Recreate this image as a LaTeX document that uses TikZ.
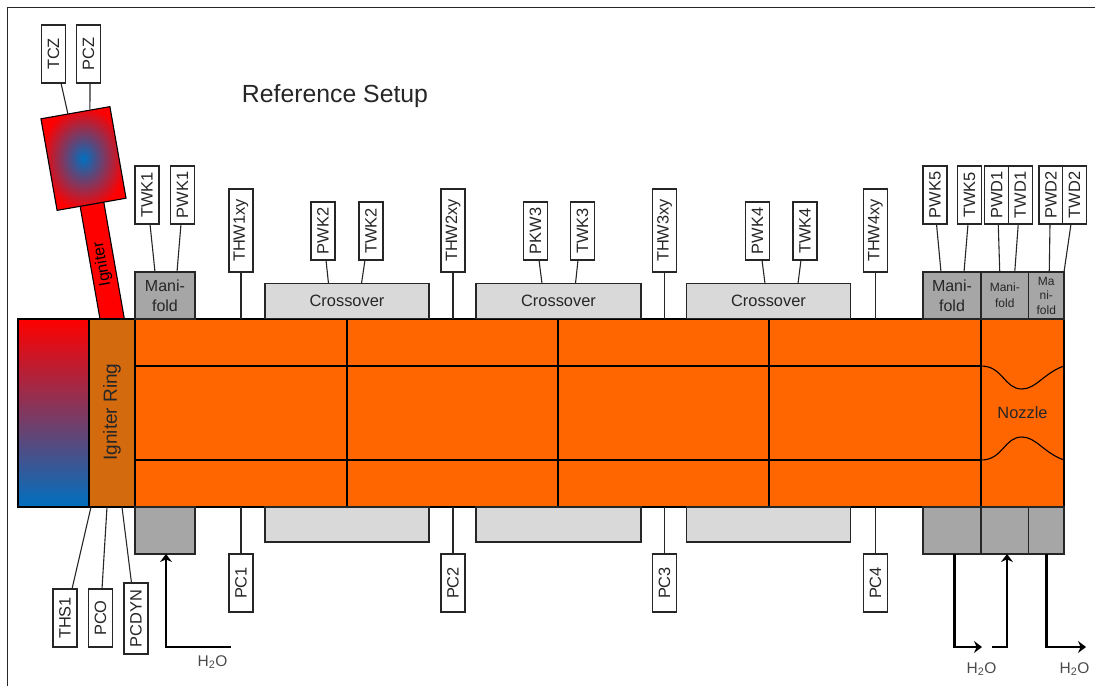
\documentclass[tikz,border=0pt]{standalone}
\usepackage{fontspec}
\setmainfont{Liberation Sans}
\usetikzlibrary{arrows.meta,positioning,calc}
\definecolor{ringbrown}{RGB}{212,106,14}
\definecolor{bodyorange}{RGB}{255,102,0}
\definecolor{coldblue}{RGB}{0,112,192}
\definecolor{manigray}{RGB}{166,166,166}
\definecolor{crossgray}{RGB}{217,217,217}

\begin{document}
\begin{tikzpicture}[
    x=1pt, y=-1pt,
    every node/.style={outer sep=0pt, inner sep=0pt},
    sensor/.style={draw=black!85, line width=1.1pt, fill=white, rotate=90, minimum width=#1, minimum height=24pt, text=black!85, font=\fontsize{16.4}{19}\selectfont},
    wire/.style={draw=black!85, line width=1.1pt},
    mani/.style={draw=black!85, line width=1.1pt, fill=manigray, minimum height=47pt, minimum width=#1, align=center, text=black!85},
    cross/.style={draw=black!85, line width=1.1pt, fill=crossgray, minimum width=#1, minimum height=35pt, text=black!85, font=\fontsize{16.4}{19}\selectfont},
    body/.style={draw=black, line width=1.2pt, fill=bodyorange, minimum height=188pt, minimum width=#1},
    flow/.style={-{Stealth[length=8pt,width=12pt]}, line width=2.6pt}
]
\useasboundingbox (0,0) rectangle (1095,686);
\draw[wire] (1095,7.5) -- (7.5,7.5) -- (7.5,686);

\node[text=black!85, font=\fontsize{24.8}{29}\selectfont] (title) at (335,96) {Reference Setup};

% Igniter
\node[draw=black, line width=1.1pt, fill=red, rotate=100, minimum width=122pt, minimum height=24pt, font=\fontsize{16}{19}\selectfont] (igniter) at (102.5,264) {Igniter};
\node[draw=black, line width=1.1pt, rotate=10, inner color=coldblue, outer color=red, minimum width=70pt, minimum height=93pt] (cham) at (83.5,158.5) {};

% Main chamber
\node[draw=black, line width=1.2pt, top color=red, bottom color=coldblue, minimum width=71pt, minimum height=188pt] (head) at (53.5,413) {};
\node[draw=black, line width=1.2pt, fill=ringbrown, minimum width=46pt, minimum height=188pt] (ring) at (112,413) {};
\node[rotate=90, text=black!85, font=\fontsize{19}{22}\selectfont] (ringtxt) at (112,412) {Igniter Ring};
\node[body=846pt] (main) at (558,413) {};
\node[body=83pt, text=black!85, font=\fontsize{16.4}{19}\selectfont] (nozzle) at (1022.5,413) {Nozzle};

\draw[wire, draw=black] (347,319) -- (347,507);
\draw[wire, draw=black] (558,319) -- (558,507);
\draw[wire, draw=black] (769,319) -- (769,507);
\draw[wire, draw=black] (135,366) -- (981,366);
\draw[wire, draw=black] (135,460) -- (981,460);
\draw[wire, draw=black] (981,366) .. controls (1003,366) and (1004,389) .. (1022,389) .. controls (1036,389) and (1044,373) .. (1064,366);
\draw[wire, draw=black] (981,460) .. controls (1003,460) and (1004,437) .. (1022,437) .. controls (1036,437) and (1044,453) .. (1064,460);

% Manifolds
\node[mani=60pt, font=\fontsize{16}{20}\selectfont] (mani1) at (165,295.5) {Mani-\\fold};
\node[mani=58pt, font=\fontsize{16}{20}\selectfont] (mani5) at (952,295.5) {Mani-\\fold};
\node[mani=47.5pt, font=\fontsize{12}{16}\selectfont] (maniD1) at (1004.75,295.5) {Mani-\\fold};
\node[mani=35.5pt, font=\fontsize{12}{14.5}\selectfont] (maniD2) at (1046.25,295.5) {Ma\\ni-\\fold};
\node[mani=60pt] (low1) at (165,530.5) {};
\node[mani=58pt] (low5) at (952,530.5) {};
\node[mani=47.5pt] (lowD1) at (1004.75,530.5) {};
\node[mani=35.5pt] (lowD2) at (1046.25,530.5) {};

% Crossovers
\node[cross=164pt] (cross1) at (347,301) {Crossover};
\node[cross=165pt] (cross2) at (558.5,301) {Crossover};
\node[cross=164pt] (cross3) at (768.5,301) {Crossover};
\node[cross=164pt] (lowc1) at (347,524.5) {};
\node[cross=165pt] (lowc2) at (558.5,524.5) {};
\node[cross=164pt] (lowc3) at (768.5,524.5) {};

% Sensors on top
\node[sensor=58pt] (tcz) at (53.5,54) {TCZ};
\node[sensor=58pt] (pcz) at (88.5,54) {PCZ};
\node[sensor=58pt] (twk1) at (147,195) {TWK1};
\node[sensor=58pt] (pwk1) at (182.5,195) {PWK1};
\node[sensor=83pt] (thw1) at (241,230.5) {THW1xy};
\node[sensor=58pt] (pwk2) at (323,231) {PWK2};
\node[sensor=58pt] (twk2) at (371,231) {TWK2};
\node[sensor=83pt] (thw2) at (453,230.5) {THW2xy};
\node[sensor=58pt] (pkw3) at (535.5,231) {PKW3};
\node[sensor=58pt] (twk3) at (582.5,231) {TWK3};
\node[sensor=83pt] (thw3) at (664.5,230.5) {THW3xy};
\node[sensor=58pt] (pwk4) at (757.5,231) {PWK4};
\node[sensor=58pt] (twk4) at (805,231) {TWK4};
\node[sensor=83pt] (thw4) at (875.5,230.5) {THW4xy};
\node[sensor=58pt] (pwk5) at (935,195) {PWK5};
\node[sensor=58pt] (twk5) at (969.5,195) {TWK5};
\node[sensor=58pt] (pwd1) at (996.75,195) {PWD1};
\node[sensor=58pt] (twd1) at (1020.25,195) {TWD1};
\node[sensor=58pt] (pwd2) at (1051,195) {PWD2};
\node[sensor=58pt] (twd2) at (1074.5,195) {TWD2};

% Sensors below
\node[sensor=58pt] (ths1) at (65,618) {THS1};
\node[sensor=58pt] (pco) at (100.5,618) {PCO};
\node[sensor=71pt] (pcdyn) at (136,618.5) {PCDYN};
\node[sensor=58pt] (pc1) at (241,583) {PC1};
\node[sensor=58pt] (pc2) at (453,583) {PC2};
\node[sensor=58pt] (pc3) at (664.5,583) {PC3};
\node[sensor=58pt] (pc4) at (875.5,583) {PC4};

% Connections on top
\draw[wire] ([xshift=7.5]tcz.west) -- ($(cham.north)+(-7.5,1.3)$);
\draw[wire] ([xshift=1.5]pcz.west) -- ($(cham.north)+(14.5,-3)$);
\draw[wire] ([xshift=3]twk1.west) -- ([xshift=-10]mani1.north);
\draw[wire] ([xshift=-1.5]pwk1.west) -- ([xshift=12]mani1.north);
\draw[wire] (thw1.west) -- (thw1.west |- main.north);
\draw[wire] ([xshift=3]pwk2.west) -- ([xshift=-18.5]cross1.north);
\draw[wire] ([xshift=-6]twk2.west) -- ([xshift=14.5]cross1.north);
\draw[wire] (thw2.west) -- (thw2.west |- main.north);
\draw[wire] ([xshift=3.5]pkw3.west) -- ([xshift=-16.5]cross2.north);
\draw[wire] ([xshift=-4.5]twk3.west) -- ([xshift=17]cross2.north);
\draw[wire] (thw3.west) -- (thw3.west |- main.north);
\draw[wire] ([xshift=4.5]pwk4.west) -- ([xshift=-3.5]cross3.north);
\draw[wire] ([xshift=-4]twk4.west) -- ([xshift=29.5]cross3.north);
\draw[wire] (thw4.west) -- (thw4.west |- main.north);
\draw[wire] ([xshift=1.5]pwk5.west) -- ([xshift=-11]mani5.north);
\draw[wire] ([xshift=-1.5]twk5.west) -- ([xshift=12]mani5.north);
\draw[wire] ([xshift=1.5]pwd1.west) -- ([xshift=-5]maniD1.north);
\draw[wire] ([xshift=-2]twd1.west) -- ([xshift=10]maniD1.north);
\draw[wire] ([xshift=-1]pwd2.west) -- ([xshift=3]maniD2.north);
\draw[wire] ([xshift=-3.5]twd2.west) -- (maniD2.north east);

% Connections below
\draw[wire] ([xshift=7]ths1.east) -- ([xshift=-21]ring.south);
\draw[wire] ([xshift=1.5]pco.east) -- ([xshift=-5]ring.south);
\draw[wire] ([xshift=-4.5]pcdyn.east) -- ([xshift=10]ring.south);
\draw[wire] (pc1.east) -- (pc1.east |- main.south);
\draw[wire] (pc2.east) -- (pc2.east |- main.south);
\draw[wire] (pc3.east) -- (pc3.east |- main.south);
\draw[wire] (pc4.east) -- (pc4.east |- main.south);

% Water
\coordinate (inA) at (231,647);
\coordinate (outA) at (982,647);
\coordinate (inB) at (992,647);
\coordinate (outB) at (1086,647);
\draw[flow] (inA) -| ([xshift=1]low1.south);
\draw[flow] ([xshift=2.5]low5.south) |- (outA);
\draw[flow] (inB) -| ([xshift=2.25]lowD1.south);
\draw[flow] (lowD2.south) |- (outB);
\node[text=black!70, font=\fontsize{15.5}{18}\selectfont] (waterA) at (212.5,662) {H\textsubscript{2}O};
\node[text=black!70, font=\fontsize{15.5}{18}\selectfont] (waterB) at (981.5,669) {H\textsubscript{2}O};
\node[text=black!70, font=\fontsize{15.5}{18}\selectfont] (waterC) at (1074.5,669) {H\textsubscript{2}O};
\end{tikzpicture}
\end{document}
